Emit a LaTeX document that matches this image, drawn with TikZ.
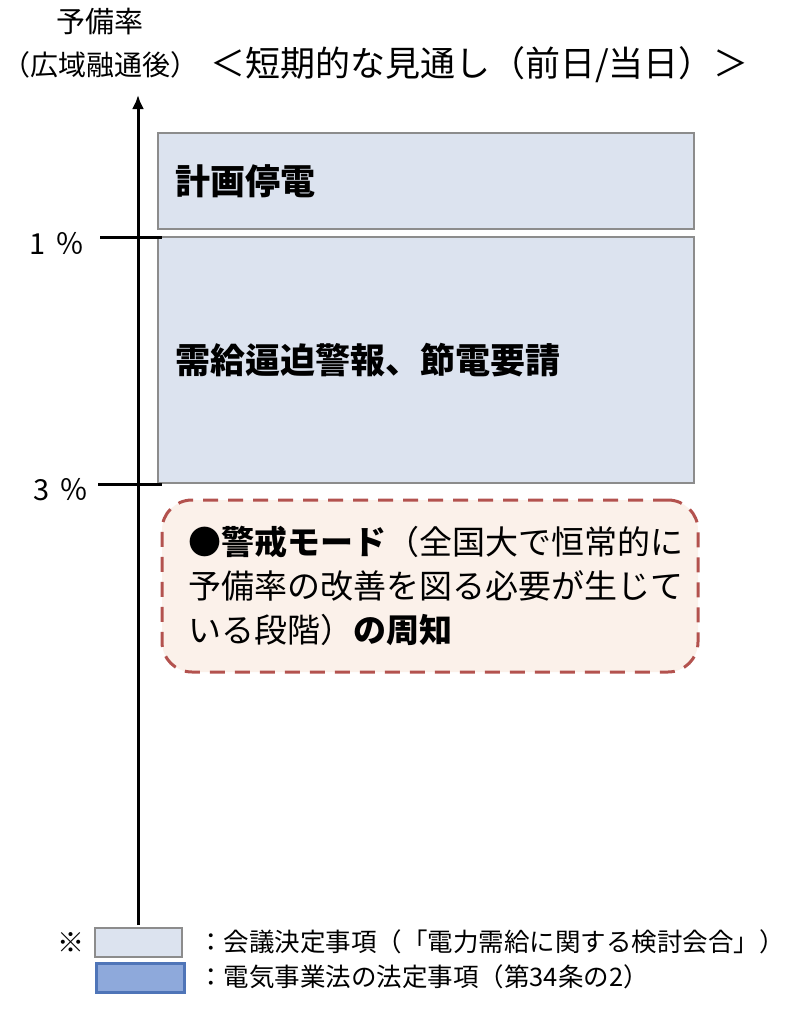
\documentclass[tikz,border=0pt]{standalone}
\usepackage{fontspec}
\setmainfont{Noto Sans CJK JP}
\usetikzlibrary{positioning,arrows.meta}
\definecolor{planfill}{HTML}{DCE3EF}
\definecolor{planline}{HTML}{8C8C8C}
\definecolor{alertfill}{HTML}{FBF1EA}
\definecolor{alertline}{HTML}{B3524E}
\definecolor{lawfill}{HTML}{8EA9DB}
\definecolor{lawline}{HTML}{4F75B8}
\tikzset{
  txt/.style={inner sep=0pt},
  planbox/.style={draw=planline, fill=planfill, line width=1.2pt, inner ysep=0pt, inner xsep=17pt, align=left},
  alertbox/.style={draw=alertline, fill=alertfill, line width=3pt, dash pattern=on 15pt off 10pt,
    rounded corners=30pt, inner xsep=26pt, align=left},
  tick/.style={line width=3pt}
}
\begin{document}
\begin{tikzpicture}[x=1pt,y=-1pt]
  \useasboundingbox (0,0) rectangle (800,1020);
  % titles
  \node[txt, font=\fontsize{29}{32}\selectfont] (rate) at (100,22) {予備率};
  \node[txt, font=\fontsize{28}{32}\selectfont] (rateb) at (100,65) {（広域融通後）};
  \node[txt, anchor=west, font=\fontsize{35}{40}\selectfont] (title) at (210,65) {＜短期的な見通し（前日/当日）＞};
  % axis
  \coordinate (axbot) at (138,925);
  \coordinate (axtop) at (138,95);
  \draw[line width=3pt, -{Latex[length=14pt,width=12pt]}] (axbot) -- (axtop);
  % boxes
  \node[planbox, minimum width=536, minimum height=96, text width=502, font=\bfseries\fontsize{35}{40}\selectfont]
    (outage) at (426,181) {計画停電};
  \node[planbox, minimum width=536, minimum height=246, text width=502, font=\bfseries\fontsize{35}{40}\selectfont]
    (alert) at (426,360) {需給逼迫警報、節電要請};
  \node[alertbox, minimum width=536, minimum height=172, text width=484, font=\fontsize{33}{44}\selectfont]
    (caution) at (430,586) {\textbf{●警戒モード}（全国大で恒常的に\\予備率の改善を図る必要が生じて\\いる段階）\textbf{の周知}};
  % ticks
  \coordinate (t1) at (100,237);
  \coordinate (t1e) at (162,237);
  \coordinate (t3) at (98,484);
  \coordinate (t3e) at (162,484);
  \draw[tick] (t1) -- (t1e);
  \draw[tick] (t3) -- (t3e);
  \node[txt, font=\fontsize{29}{32}\selectfont] (one) at (57,243) {1\,\,％};
  \node[txt, font=\fontsize{29}{32}\selectfont] (three) at (61,490) {3\,\,％};
  % legend
  \node[txt, font=\fontsize{27}{30}\selectfont] (note) at (71,942) {※};
  \node[draw=planline, fill=planfill, line width=1.5pt, minimum width=87, minimum height=29] (lg1) at (138.5,942.5) {};
  \node[draw=lawline, fill=lawfill, line width=3pt, minimum width=88, minimum height=29] (lg2) at (140,977.5) {};
  \node[txt, anchor=west, font=\fontsize{25.5}{30}\selectfont] (lgt1) at (198,942) {：会議決定事項（「電力需給に関する検討会合」）};
  \node[txt, anchor=west, font=\fontsize{25.5}{30}\selectfont] (lgt2) at (198,977) {：電気事業法の法定事項（第34条の2）};
\end{tikzpicture}
\end{document}
